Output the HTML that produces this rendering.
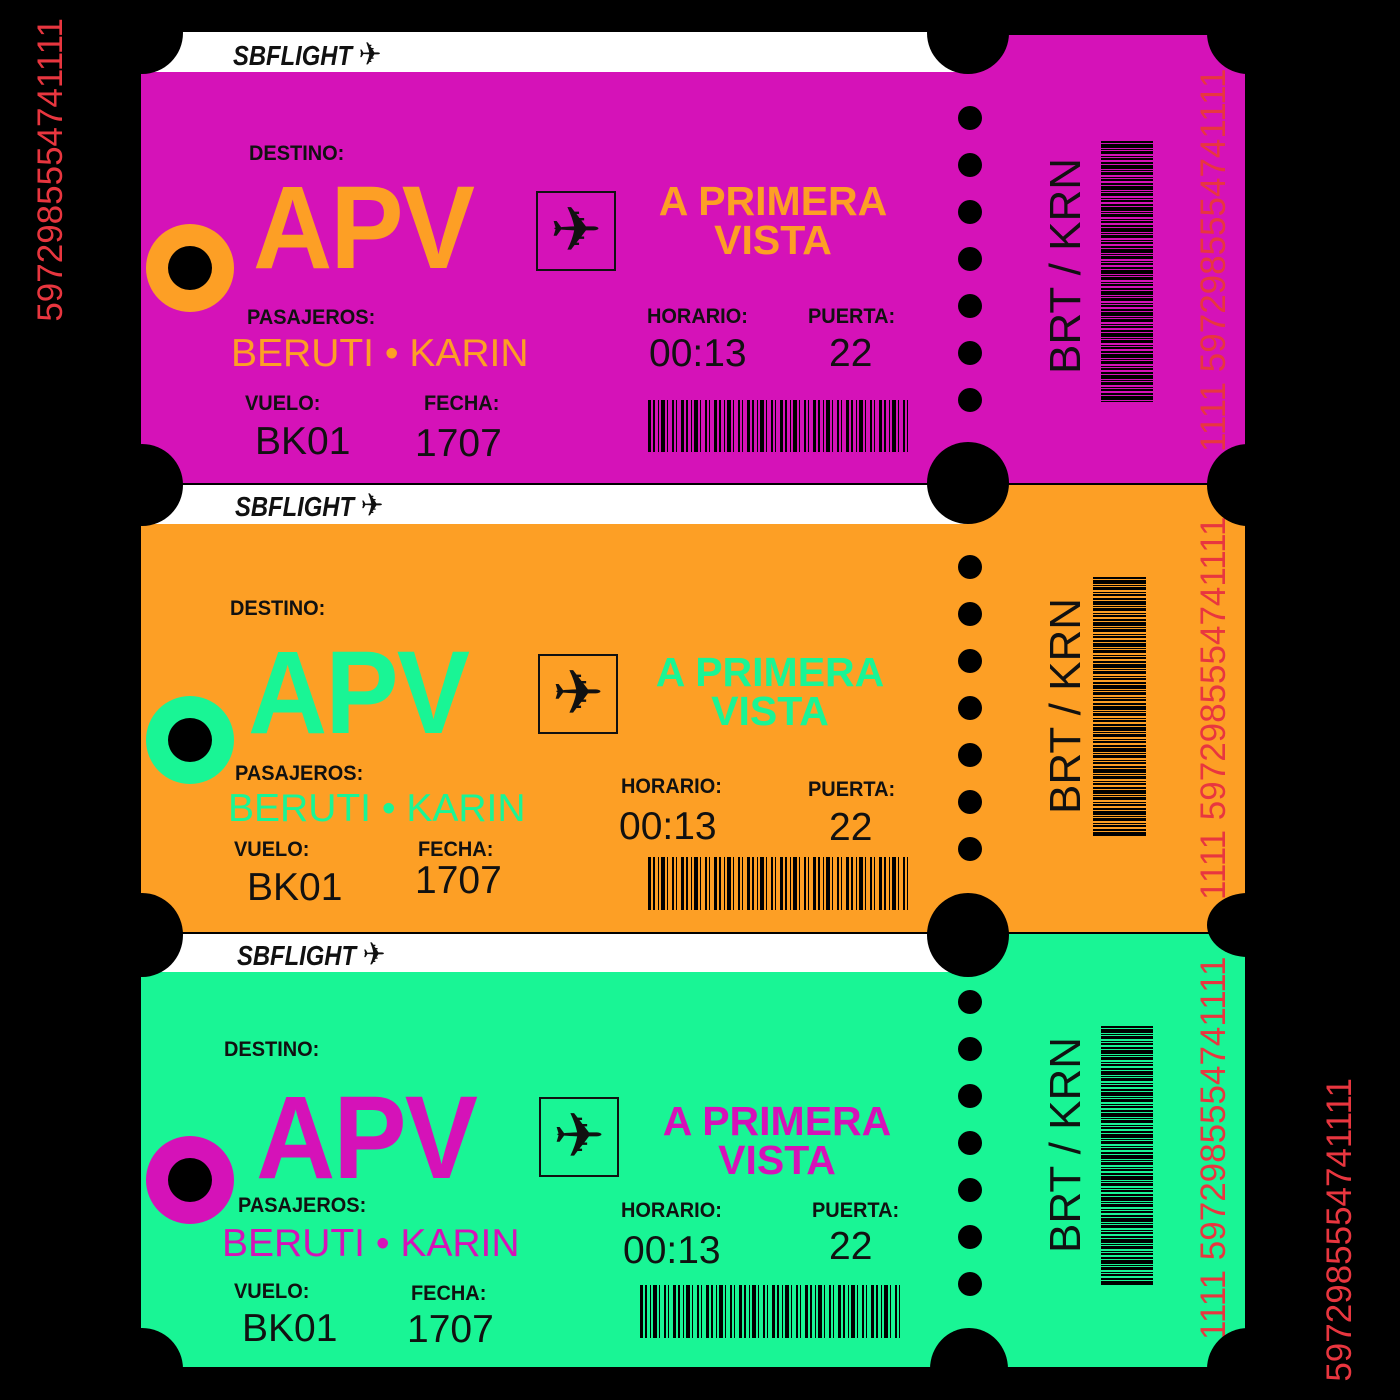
<!DOCTYPE html>
<html style="width:1400px;height:1400px;overflow:hidden"><head><meta charset="utf-8"><style>
*{margin:0;padding:0;box-sizing:border-box}
body{width:1400px;height:1400px;background:#000;position:relative;overflow:hidden;font-family:"Liberation Sans",sans-serif}
div,span{position:absolute}
.t{line-height:1;white-space:nowrap}
.lb{font-family:"Liberation Sans",sans-serif;font-weight:bold;font-size:21px;color:#111;transform:scaleX(.95);transform-origin:left top}
.big{font-size:39px;color:#111}
.apv{font-weight:bold;font-size:118px;transform:scaleX(.93);transform-origin:left top;letter-spacing:-2px}
.ttl{font-family:"Liberation Sans",sans-serif;font-weight:bold;font-size:41px;text-align:center;width:300px;line-height:39px}
.c{border-radius:50%;background:#000}
.box{width:80px;height:80px;border:2px solid #111;font-size:62px;line-height:74px;text-align:center;color:#111;font-family:"DejaVu Sans",sans-serif}
.bc{background:repeating-linear-gradient(90deg,#000 0 3px,transparent 3px 5px,#000 5px 7px,transparent 7px 10px,#000 10px 11px,transparent 11px 13px,#000 13px 17px,transparent 17px 19px,#000 19px 20px,transparent 20px 24px,#000 24px 26px,transparent 26px 28px,#000 28px 29px,transparent 29px 33px)}
.sb{background:repeating-linear-gradient(180deg,#000 0 2px,transparent 2px 3px,#000 3px 7px,transparent 7px 8px,#000 8px 9px,transparent 9px 10px,#000 10px 13px,transparent 13px 15px,#000 15px 16px,transparent 16px 17px,#000 17px 19px,transparent 19px 21px)}
.dot{width:24px;height:24px;border-radius:50%;background:#000;left:958px}
.v{writing-mode:vertical-rl;transform:rotate(180deg);line-height:1;white-space:nowrap}
.red{color:#e8363f;font-family:"Liberation Sans",sans-serif;font-size:35px}
.brt{font-size:44px;color:#111}
.logo{font-family:"Liberation Sans",sans-serif;font-weight:bold;font-style:italic;font-size:28px;color:#111;line-height:1;transform:scaleX(.85);transform-origin:left top}
</style></head><body>

<div class="v red" style="left:33px;top:18px">5972985554741111</div>
<div class="v red" style="left:1322px;top:1078px">5972985554741111</div>

<div style="left:141px;top:72px;width:1104px;height:411px;background:#d512b8"></div>
<div style="left:967px;top:35px;width:278px;height:448px;background:#d512b8"></div>
<div style="left:141px;top:32px;width:826px;height:40px;background:#fff"></div>
<div style="left:141px;top:524px;width:1104px;height:408px;background:#fd9f25"></div>
<div style="left:967px;top:485px;width:278px;height:447px;background:#fd9f25"></div>
<div style="left:141px;top:485px;width:826px;height:39px;background:#fff"></div>
<div style="left:141px;top:972px;width:1104px;height:395px;background:#19f595"></div>
<div style="left:967px;top:934px;width:278px;height:433px;background:#19f595"></div>
<div style="left:141px;top:934px;width:826px;height:38px;background:#fff"></div>

<div class="v red" style="left:1196px;top:62px;height:390px;overflow:hidden">1111 5972985554741111</div>
<div class="v red" style="left:1196px;top:510px;height:390px;overflow:hidden">1111 5972985554741111</div>
<div class="v red" style="left:1196px;top:955px;height:385px;overflow:hidden">1111 5972985554741111</div>

<div class="c" style="left:101px;top:-8px;width:82px;height:82px"></div>
<div class="c" style="left:927px;top:-8px;width:82px;height:82px"></div>
<div class="c" style="left:1207px;top:-8px;width:82px;height:82px"></div>
<div class="c" style="left:101px;top:444px;width:82px;height:82px"></div>
<div class="c" style="left:927px;top:442px;width:82px;height:82px"></div>
<div class="c" style="left:1207px;top:444px;width:82px;height:82px"></div>
<div class="c" style="left:101px;top:893px;width:82px;height:84px"></div>
<div class="c" style="left:927px;top:893px;width:82px;height:84px"></div>
<div class="c" style="left:1207px;top:893px;width:82px;height:64px"></div>
<div class="c" style="left:101px;top:1328px;width:82px;height:82px"></div>
<div class="c" style="left:930px;top:1328px;width:78px;height:82px"></div>
<div class="c" style="left:1207px;top:1328px;width:82px;height:82px"></div>

<div class="logo" style="left:233px;top:38px">SBFLIGHT <span style="position:static;font-style:normal;font-family:'DejaVu Sans';font-size:32px">✈</span></div>
<div class="logo" style="left:235px;top:489px">SBFLIGHT <span style="position:static;font-style:normal;font-family:'DejaVu Sans';font-size:32px">✈</span></div>
<div class="logo" style="left:237px;top:938px">SBFLIGHT <span style="position:static;font-style:normal;font-family:'DejaVu Sans';font-size:32px">✈</span></div>

<div class="t lb" style="left:249px;top:143px">DESTINO:</div>
<div class="t apv" style="left:253px;top:169px;color:#fd9f25">APV</div>
<div class="c" style="left:146px;top:224px;width:88px;height:88px;background:#fd9f25"></div>
<div class="c" style="left:168px;top:246px;width:44px;height:44px"></div>
<div class="box" style="left:536px;top:191px">✈</div>
<div class="t ttl" style="left:623px;top:182px;color:#fd9f25">A PRIMERA<br>VISTA</div>
<div class="t lb" style="left:247px;top:307px">PASAJEROS:</div>
<div class="t big" style="left:231px;top:334px;color:#fd9f25">BERUTI • KARIN</div>
<div class="t lb" style="left:647px;top:306px">HORARIO:</div>
<div class="t big" style="left:649px;top:334px">00:13</div>
<div class="t lb" style="left:808px;top:306px">PUERTA:</div>
<div class="t big" style="left:829px;top:334px">22</div>
<div class="t lb" style="left:245px;top:393px">VUELO:</div>
<div class="t big" style="left:255px;top:422px">BK01</div>
<div class="t lb" style="left:424px;top:393px">FECHA:</div>
<div class="t big" style="left:415px;top:424px">1707</div>
<div class="bc" style="left:648px;top:400px;width:260px;height:52px"></div>
<div class="dot" style="top:106px"></div><div class="dot" style="top:153px"></div><div class="dot" style="top:200px"></div><div class="dot" style="top:247px"></div><div class="dot" style="top:294px"></div><div class="dot" style="top:341px"></div><div class="dot" style="top:388px"></div>
<div class="v brt" style="left:1044px;top:158px">BRT / KRN</div>
<div class="sb" style="left:1101px;top:141px;width:52px;height:261px"></div>

<div class="t lb" style="left:230px;top:598px">DESTINO:</div>
<div class="t apv" style="left:248px;top:634px;color:#19f595">APV</div>
<div class="c" style="left:146px;top:696px;width:88px;height:88px;background:#19f595"></div>
<div class="c" style="left:168px;top:718px;width:44px;height:44px"></div>
<div class="box" style="left:538px;top:654px">✈</div>
<div class="t ttl" style="left:620px;top:653px;color:#19f595">A PRIMERA<br>VISTA</div>
<div class="t lb" style="left:235px;top:763px">PASAJEROS:</div>
<div class="t big" style="left:228px;top:789px;color:#19f595">BERUTI • KARIN</div>
<div class="t lb" style="left:621px;top:776px">HORARIO:</div>
<div class="t big" style="left:619px;top:807px">00:13</div>
<div class="t lb" style="left:808px;top:779px">PUERTA:</div>
<div class="t big" style="left:829px;top:808px">22</div>
<div class="t lb" style="left:234px;top:839px">VUELO:</div>
<div class="t big" style="left:247px;top:868px">BK01</div>
<div class="t lb" style="left:418px;top:839px">FECHA:</div>
<div class="t big" style="left:415px;top:861px">1707</div>
<div class="bc" style="left:648px;top:857px;width:260px;height:53px"></div>
<div class="dot" style="top:555px"></div><div class="dot" style="top:602px"></div><div class="dot" style="top:649px"></div><div class="dot" style="top:696px"></div><div class="dot" style="top:743px"></div><div class="dot" style="top:790px"></div><div class="dot" style="top:837px"></div>
<div class="v brt" style="left:1044px;top:598px">BRT / KRN</div>
<div class="sb" style="left:1093px;top:577px;width:53px;height:260px"></div>

<div class="t lb" style="left:224px;top:1039px">DESTINO:</div>
<div class="t apv" style="left:256px;top:1079px;color:#d512b8">APV</div>
<div class="c" style="left:146px;top:1136px;width:88px;height:88px;background:#d512b8"></div>
<div class="c" style="left:168px;top:1158px;width:44px;height:44px"></div>
<div class="box" style="left:539px;top:1097px">✈</div>
<div class="t ttl" style="left:627px;top:1102px;color:#d512b8">A PRIMERA<br>VISTA</div>
<div class="t lb" style="left:238px;top:1195px">PASAJEROS:</div>
<div class="t big" style="left:222px;top:1224px;color:#d512b8">BERUTI • KARIN</div>
<div class="t lb" style="left:621px;top:1200px">HORARIO:</div>
<div class="t big" style="left:623px;top:1231px">00:13</div>
<div class="t lb" style="left:812px;top:1200px">PUERTA:</div>
<div class="t big" style="left:829px;top:1227px">22</div>
<div class="t lb" style="left:234px;top:1281px">VUELO:</div>
<div class="t big" style="left:242px;top:1309px">BK01</div>
<div class="t lb" style="left:411px;top:1283px">FECHA:</div>
<div class="t big" style="left:407px;top:1310px">1707</div>
<div class="bc" style="left:640px;top:1285px;width:260px;height:53px"></div>
<div class="dot" style="top:990px"></div><div class="dot" style="top:1037px"></div><div class="dot" style="top:1084px"></div><div class="dot" style="top:1131px"></div><div class="dot" style="top:1178px"></div><div class="dot" style="top:1225px"></div><div class="dot" style="top:1272px"></div>
<div class="v brt" style="left:1044px;top:1037px">BRT / KRN</div>
<div class="sb" style="left:1101px;top:1026px;width:52px;height:260px"></div>

</body></html>
